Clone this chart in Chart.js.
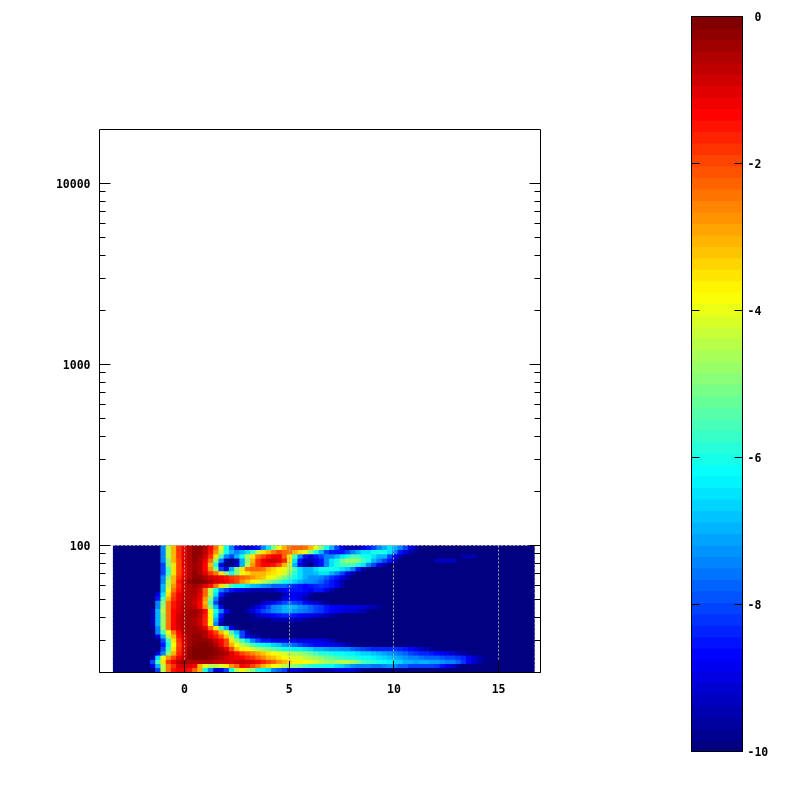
<!DOCTYPE html>
<html><head><meta charset="utf-8">
<style>html,body{margin:0;padding:0;background:#fff}canvas{position:absolute;left:0;top:0}</style>
<script src="https://cdn.jsdelivr.net/npm/chart.js@4"></script>
</head><body>
<canvas id="main" width="800" height="800"></canvas>
<canvas id="bar" width="800" height="800"></canvas>
<script>
// Axis ticks
const xTicks = [0, 5, 10, 15];
const yMajorTicks = [100, 1000, 10000];
const yMinorTicks = [20,30,40,50,60,70,80,90,200,300,400,500,600,700,800,900,2000,3000,4000,5000,6000,7000,8000,9000];
const colorbarTicks = [-10,-8,-6,-4,-2,0];
// Column centres (x) and frequency band edges (y)
const columnX = [-3.26,-3.00,-2.75,-2.50,-2.25,-2.00,-1.75,-1.49,-1.24,-0.99,-0.74,-0.49,-0.24,0.02,0.27,0.52,0.77,1.02,1.27,1.53,1.78,2.03,2.28,2.53,2.78,3.04,3.29,3.54,3.79,4.04,4.29,4.54,4.80,5.05,5.30,5.55,5.80,6.05,6.31,6.56,6.81,7.06,7.31,7.56,7.81,8.07,8.32,8.57,8.82,9.07,9.32,9.58,9.83,10.08,10.33,10.58,10.83,11.09,11.34,11.59,11.84,12.09,12.34,12.59,12.85,13.10,13.35,13.60,13.85,14.10,14.36,14.61,14.86,15.11,15.36,15.61,15.87,16.12,16.35,16.56];
const bandEdges = [100,94.77,89.82,85.13,80.68,76.47,72.47,68.69,65.1,61.7,58.48,55.42,52.53,49.78,47.18,44.72,42.38,40.17,38.07,36.08,34.2,32.41,30.72,29.11,27.59,26.15,24.79,23.49,22.26,21.1,20];
// Depth below 0 (value = -depth) per band, top band first, starting at column 7; columns not listed are -10
const firstColumn = 7;
const depthRows = [
[10,10,7.5,4.5,3,1.8,1.2,.5,.3,.3,.6,1.3,2.5,4,6,7.5,8.5,9,9.5,9,8.5,7.5,6.5,5,4,3,2.5,2.3,2.3,2.5,3,4,5,6,7,8,9,9.5,9.5,9.5,9,8.5,8,7.5,7,6.5,7,7.5,8,9,9.5],
[10,10,7.5,4.5,3,1.8,1,.5,.3,.3,.7,1.5,2.8,4.5,6,7,7.5,7,6.5,5.5,4.5,3.5,3,2.5,2,2.2,2.5,3,3.5,4,5,6,7,8,8.5,8.5,8.5,8,7.5,7,6.5,6.5,6,6,6,6.5,7.5,8.5,9,9.5],
[10,10,7.5,4.5,3,1.8,1,.5,.3,.4,.9,1.8,3.5,5.5,7.5,8,7,6,4.5,3.5,2.5,2,1.5,1.2,1.2,2.2,3.5,5.5,7.5,8.5,9,8.5,8,7.5,7.5,7,6.5,6,5.5,5.5,6,6,6.5,7,7,8,9,9.5,10,10,10,10,10,10,10,10,10,10,10,9.5,9.5,9.5],
[10,10,7.5,5,3,2,1,.5,.3,.5,1.2,2.5,5,7.5,9.5,10,9.5,7,5,3,1.8,1.2,.9,.8,1,1.7,3.5,6.5,8.5,9.5,9.5,9,8.5,7.5,6.5,6,5.2,4.8,4.8,5,5.5,6,7,7.5,8,8.5,9.5,10,10,10,10,10,10,10,9.3,9.3,9.3,9.3],
[10,10,8,5,3.5,2,1,.6,.4,.6,1.3,3,6,9,10,10,9,7,4.5,2.8,1.8,1.4,1.3,1.5,2,3,4.5,7,9,9.5,10,9,8.5,7.5,6.5,5.8,5.5,5.5,5.5,6,6.5,7.5,8,9,9.5],
[10,10,8,5.5,3.5,2,1.2,.6,.4,.6,1.4,2.8,5,8,9,7,5,3.5,2.5,2.2,2.2,2.5,3,3.3,3.7,4,4.5,5.5,6.5,7,7,6.5,6,6,6,6.2,6.5,6.8,7.5,8.5,9.5],
[10,10,8,5.5,3.5,2,1.2,.6,.3,.5,1,1.8,2.5,3.5,5,6,5,4,3.5,3,3,3,3.3,3.5,3.7,4.2,5,5.8,6.5,7,7,6.8,6.5,6.5,7,7.5,8,9,9.5],
[10,10,7.5,5,3,1.8,1,.5,.2,.2,.5,.8,1,1.2,1.5,1.8,2,2.3,2.5,2.8,3,3.2,3.6,4,4.5,5,5.5,6,6.5,7,7.2,7.3,7.5,7.8,8.2,8.5,9,9.5],
[10,10,7.5,4.5,3,1.5,.8,.3,.1,.1,.3,.5,.8,1,1.3,1.7,2,2.8,3.2,3.6,4,4.4,4.8,5.2,5.6,6,6.4,6.7,7,7.2,7.3,7.5,7.8,8.2,8.5,9,9.5],
[10,10,7,4.5,2.8,1.6,.9,.5,.4,.6,1,1.5,2.5,3.5,4.5,5.5,6,6.2,6.5,6.8,7,7.3,7.5,7.7,7.8,7.8,8,8.3,8.5,8.7,8.5,8.3,8.2,8.3,8.5,8.8,9.5],
[10,10,7,4,2.5,1.5,.8,.5,.5,.8,2.2,4.5,6,7.5,8,8.5,8.8,9,9.3,9.5,9.5,9.5,9.5,9.5,9,8.8,8.5,8.5,8.5,8.7,8.8,8.5,8.5,9,9.5],
[10,9,6.5,3.5,2,1.2,.7,.5,.6,1,2.3,4.5,6.5,8.5,9.5,10,10,10,10,10,10,10,10,10,10,9.5,9,8.8,8.8,9.2,9.5],
[10,8.5,5.5,3,1.8,1.1,.7,.5,.7,1.2,2.8,5,7.5,9.5,10,10,10,10,10,10,10,10,10,10,9.7,9,8.7,8.7,9,9.5],
[10,7.5,5,2.5,1.5,1,.7,.6,.9,1.4,3,5.5,8,10,10,10,10,10,10,10,9.7,9.3,9,8.7,8.3,8,7.8,8,8.2,8.6,9,9.2,9.5,9.7],
[10,7.5,4.8,2.5,1.5,1,.6,.5,.7,1.3,2.8,5,7,9,10,10,10,10,10,9.5,9,8.5,8,7.5,7.2,7,6.8,7,7.2,7.5,7.7,8,8.2,8.5,8.7,8.8,8.9,9,9,9.1,9.2,9.3,9.4,9.6],
[9.5,7,4.5,2.4,1.4,1,.5,.4,.4,.5,1.3,3.8,6,7.5,8.8,9.8,10,10,9.5,9,8.5,8,7.7,7.4,7.2,7,7,7.2,7.4,7.6,7.8,8,8.2,8.5,8.7,8.8,9,9.1,9.2,9.3,9.5,9.7],
[9.5,7,4.8,2.4,1.3,.9,.5,.4,.4,.7,1.5,3.8,6.5,8.5,9.8,10,10,10,10,9.7,9.3,9,8.8,8.6,8.5,8.4,8.3,8.5,8.7,8.8,8.9,9,9.2,9.4,9.6,9.8],
[9.5,7,4.8,2.4,1.4,.9,.5,.4,.5,.8,1.6,3.6,7,9,10,10,10,10,10,9.8,9.8,9.8,9.7,9.5,9.5,9.4,9.3,9.4,9.5,9.6,9.8],
[9.5,7,4.8,2.4,1.4,.9,.5,.4,.5,.8,1.6,3.8,7.5,9.5],
[9.8,7.5,4.8,2.4,1.4,.9,.5,.4,.4,.5,1,2.5,3.6,5.5,7,8.8,9.8],
[10,7.5,5.5,4,2.5,1.3,.6,.4,.4,.4,.6,1.3,2,3,4,5.5,6.8,8,9.5],
[10,9,7,4.5,3,1.5,.8,.4,.3,.3,.5,1,1.5,2.1,3.2,4.5,6,8,9,9.3,9.5],
[10,10,8,5.5,3.5,1.8,.9,.4,.2,.2,.3,.4,.8,1.4,2,3.5,4.7,5.5,6.5,7.5,8,8.5,8.5,8.8,9,9,9,9,9,9,9,9,9,9.2,9.5,9.8],
[10,10,8.5,6,3.8,2,1,.4,.2,.1,.1,.2,.5,1.2,2,3,3.8,4.5,5,5.5,6,6.2,6.4,6.6,6.8,7.2,7.5,7.8,8,8.3,8.5,8.6,8.7,8.8,8.8,9,9.2,9.5,9.7],
[10,10,8,5.5,3.5,1.8,.9,.3,.1,.05,.05,.1,.2,.5,1,2,3.2,3.7,3.9,4.2,4.5,4.8,5.1,5.4,5.7,6,6.2,6.3,6.4,6.5,6.6,6.9,7,7.1,7.2,7.3,7.4,7.5,7.7,7.9,8,8.2,8.3,8.4,8.4,8.3,8.2,8.3,8.5,8.7,9,9.3,9.5,9.7,9.8],
[10,9,7.5,5,3,1.6,.8,.3,.1,.05,.05,.1,.2,.4,.6,1,1.5,2,2.3,2.6,2.9,3.2,3.5,3.8,4,4.2,4.4,4.6,4.8,5,5.2,5.5,5.8,5.9,6,6.1,6.2,6.3,6.4,6.5,6.6,6.7,6.8,7,7.1,7.2,7.4,7.6,7.8,8,8.2,8.3,8.4,8.5,8.6,8.8,9,9.2,9.4,9.6,9.8],
[9.5,6.5,4,2.8,2,1.2,.7,.3,.1,.05,.1,.2,.4,.6,.8,1,1.2,1.4,1.6,1.8,2.2,2.6,3,3.2,3.5,3.8,4,4.1,4.2,4.4,4.6,4.8,5,5.2,5.3,5.5,5.7,5.8,5.9,6,6.1,6.2,6.3,6.5,6.6,6.8,7,7.1,7.3,7.4,7.5,7.6,7.7,7.7,7.8,7.9,8,8,8.2,8.4,8.8,9.2,9.5,9.7,9.8],
[8,5.5,3.5,1.8,1.2,.5,.4,.5,.6,.6,.6,.6,.7,.8,.9,1,.8,.7,.8,1,1.3,1.6,2,2.3,2.7,3,3.4,3.6,3.7,3.8,4,4.2,4.4,4.6,4.7,4.6,4.5,4.5,4.8,5.1,5.5,5.7,5.9,6,6.2,6.4,6.6,6.7,6.9,7,7.1,7,7,7.1,7.1,7.2,7.4,7.5,7.8,8.2,8.7,9.2,9.5,9.7],
[9,7,4.5,2.5,1.8,1,.8,1,1.2,3,4,4.5,4.5,4.2,3.7,2.8,2.2,1.4,1.5,2,2.5,3,3.4,3.8,4,4.5,4.8,5,5.3,5.6,5.9,6,6,6.1,6.2,6.5,6.7,7,7.2,7.4,7.5,7.5,7.6,7.6,7.4,7.3,7.5,7.7,7.8,8,8,8,8,8.1,8.2,8.5,8.8,9.2,9.6],
[10,8,4.5,2.5,1.5,1.2,1.2,1.5,2.3,3,6,7.5,9.2,8.8,8,6,4.5,3.7,4.5,5,5.8,6.2,6.5,7.5,7.7,8,8.8,9,9.2,9.3,9.4,9.5,9.6,9.5,9.4,9.2,9.1,9,9.2,9.5,9.8]
];
const backgroundDepth = 10;

// 64-step jet colour map over -10..0
function jet(value){
  const idx = Math.max(0, Math.min(63, Math.floor((value + 10) / 10 * 64)));
  const t = idx / 63;
  const c = v => Math.round(255 * Math.max(0, Math.min(1, v)));
  return `rgb(${c(Math.min(4*t-1.5, 4.5-4*t))},${c(Math.min(4*t-0.5, 3.5-4*t))},${c(Math.min(4*t+0.5, 2.5-4*t))})`;
}
const monoFont = {family:"'DejaVu Sans Mono', monospace", size:11.5, weight:'bold'};

const heatDatasets = depthRows.map((row, r) => {
  const values = columnX.map((_, i) => {
    const d = row[i - firstColumn];
    return -(d === undefined ? backgroundDepth : d);
  });
  const upper = r === 0 ? bandEdges[0] : bandEdges[r] * 1.012;
  return {
    data: columnX.map((x, i) => ({x, y:[bandEdges[r+1], upper]})),
    backgroundColor: values.map(jet),
    borderWidth: 0,
    barThickness: 6,
    grouped: false
  };
});

const frameAndTicks = {
  id:'frameAndTicks',
  afterDatasetsDraw(chart){
    const {ctx, chartArea:a, scales:{x, y}} = chart;
    const crisp = v => Math.round(v - 0.5) + 0.5;
    ctx.save();
    // dashed grid only across the data block
    ctx.strokeStyle = '#a8a8a8'; ctx.lineWidth = 1; ctx.setLineDash([2,2]);
    ctx.beginPath();
    const gridTop = crisp(y.getPixelForValue(bandEdges[0]));
    const gridBottom = crisp(y.getPixelForValue(bandEdges[bandEdges.length-1]));
    xTicks.forEach(v => { const p = crisp(x.getPixelForValue(v)); ctx.moveTo(p, gridTop); ctx.lineTo(p, gridBottom); });
    ctx.moveTo(x.getPixelForValue(columnX[0]) - 3, gridTop);
    ctx.lineTo(x.getPixelForValue(columnX[columnX.length-1]) + 3, gridTop);
    ctx.stroke();
    ctx.setLineDash([]);
    ctx.strokeStyle = '#000';
    ctx.beginPath();
    ctx.rect(crisp(a.left), crisp(a.top), Math.round(a.right - a.left), Math.round(a.bottom - a.top));
    xTicks.forEach(v => { const p = crisp(x.getPixelForValue(v)); ctx.moveTo(p, a.bottom); ctx.lineTo(p, a.bottom - 11); });
    const yTick = (v, len) => {
      const p = crisp(y.getPixelForValue(v));
      ctx.moveTo(a.left, p); ctx.lineTo(a.left + len, p);
      ctx.moveTo(a.right, p); ctx.lineTo(a.right - len, p);
    };
    yMajorTicks.forEach(v => yTick(v, 11));
    yMinorTicks.forEach(v => yTick(v, 6));
    ctx.stroke();
    ctx.restore();
  }
};

new Chart(document.getElementById('main'), {
  type:'bar',
  data:{datasets:heatDatasets},
  plugins:[frameAndTicks],
  options:{
    responsive:false, animation:false, devicePixelRatio:1,
    events:[],
    layout:{padding:{top:129, right:259.5, left:0, bottom:0}},
    plugins:{legend:{display:false}, tooltip:{enabled:false}},
    scales:{
      x:{type:'linear', min:-4.06, max:17, offset:false,
        grid:{display:false, drawTicks:false, tickLength:0}, border:{display:false},
        afterBuildTicks(s){ s.ticks = xTicks.map(value => ({value})); },
        afterFit(s){ s.height = 128; },
        ticks:{font:monoFont, color:'#000', padding:11, maxRotation:0, autoSkip:false}},
      y:{type:'logarithmic', min:20, max:20000, offset:false,
        grid:{display:false, drawTicks:false, tickLength:0}, border:{display:false},
        afterBuildTicks(s){ s.ticks = yMajorTicks.map(value => ({value})); },
        afterFit(s){ s.width = 99.5; },
        ticks:{font:monoFont, color:'#000', padding:9, labelOffset:2, autoSkip:false, callback:v => String(v)}}
    }
  }
});

// Colour bar: 64 steps
const colorbarSteps = [];
for (let i = 0; i < 64; i++) colorbarSteps.push(-10 + (i + 0.5) * 10 / 64);

const colorbarFrame = {
  id:'colorbarFrame',
  afterDatasetsDraw(chart){
    const {ctx, chartArea:a, scales:{y}} = chart;
    ctx.save();
    ctx.strokeStyle = '#000'; ctx.lineWidth = 1;
    ctx.beginPath();
    ctx.rect(a.left, a.top, a.right - a.left, a.bottom - a.top);
    colorbarTicks.forEach(v => {
      const p = Math.round(y.getPixelForValue(v) - 0.5) + 0.5;
      ctx.moveTo(a.left, p); ctx.lineTo(a.left + 8, p);
      ctx.moveTo(a.right, p); ctx.lineTo(a.right - 8, p);
    });
    ctx.stroke();
    ctx.restore();
  }
};

new Chart(document.getElementById('bar'), {
  type:'bar',
  data:{datasets:[{
    data:colorbarSteps.map(v => ({x:[0,1], y:v})),
    backgroundColor:colorbarSteps.map(jet),
    borderWidth:0, barThickness:12.2
  }]},
  plugins:[colorbarFrame],
  options:{
    indexAxis:'y',
    responsive:false, animation:false, devicePixelRatio:1,
    events:[],
    layout:{padding:{top:16.5, left:691.5, bottom:48.5, right:0}},
    plugins:{legend:{display:false}, tooltip:{enabled:false}},
    scales:{
      x:{type:'linear', min:0, max:1, offset:false, display:false},
      y:{type:'linear', position:'right', min:-10, max:0, offset:false,
        grid:{display:false, drawTicks:false, tickLength:0}, border:{display:false},
        afterBuildTicks(s){ s.ticks = colorbarTicks.map(value => ({value})); },
        afterFit(s){ s.width = 57.5; },
        ticks:{font:monoFont, color:'#000', padding:5, labelOffset:2, autoSkip:false, crossAlign:'near',
          callback:v => (v === 0 ? ' 0' : String(v))}}
    }
  }
});
</script>
</body></html>
